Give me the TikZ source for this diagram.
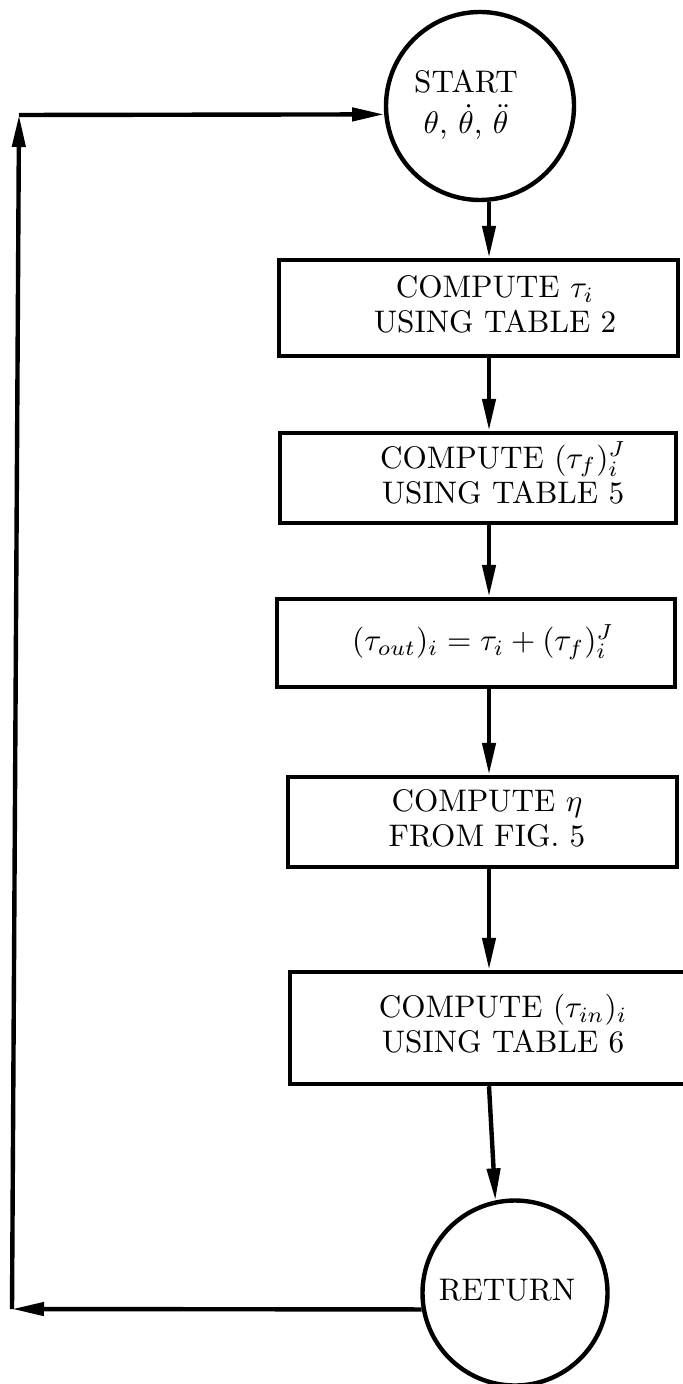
\documentclass[tikz,border=0pt]{standalone}
\usetikzlibrary{arrows.meta}
% centred block of lines set in the 10pt design and enlarged,
% moved sideways by half of #1
\newcommand\boxtext[2]{\hspace*{#1}\scalebox{1.56}{\begin{tabular}{@{}c@{}}#2\end{tabular}}}
\begin{document}
\begin{tikzpicture}[x=0.5pt,y=-0.5pt,
  every node/.style={font=\fontsize{10}{11.3}\selectfont, inner sep=0pt},
  stepbox/.style={draw, rectangle, line width=2.2pt},
  term/.style={draw, circle, line width=2.2pt},
  flow/.style={line width=2.2pt, -{Triangle[length=16pt,width=6.5pt]}}]
\useasboundingbox (0,0) rectangle (682,1384);

% terminals
\node[term, minimum size=94pt] (st) at (480,106)
  {\boxtext{-14pt}{START\\[0.6pt]$\theta$, $\dot\theta$, $\ddot\theta$}};
\node[term, minimum size=92.5pt] (ret) at (515,1293) {\boxtext{-8pt}{RETURN}};

% processing steps
\node[stepbox, minimum width=199.5pt, minimum height=48pt] (b1) at (478.5,308)
  {\boxtext{16.5pt}{COMPUTE $\tau_i$\\USING TABLE 2}};
\node[stepbox, minimum width=198pt, minimum height=45pt] (b2) at (478,478)
  {\boxtext{25pt}{COMPUTE $(\tau_f)_i^J$\\USING TABLE 5}};
\node[stepbox, minimum width=199pt, minimum height=44pt] (b3) at (476,643)
  {\boxtext{7pt}{$(\tau_{out})_i = \tau_i + (\tau_f)_i^J$}};
\node[stepbox, minimum width=194.5pt, minimum height=45pt] (b4) at (482.5,822)
  {\boxtext{4.5pt}{COMPUTE $\eta$\\FROM FIG. 5}};
\node[stepbox, minimum width=213pt, minimum height=56pt] (b5) at (503,1028)
  {\boxtext{0pt}{COMPUTE $(\tau_{in})_i$\\USING TABLE 6}};

% column of the downward connectors and corners of the loop
\coordinate (ax) at (489,0);
\coordinate (tl) at (19,115);
\coordinate (bl) at (12,1309);

\draw[flow] (st.south -| ax) -- (b1.north -| ax);
\draw[flow] (b1.south -| ax) -- (b2.north -| ax);
\draw[flow] (b2.south -| ax) -- (b3.north -| ax);
\draw[flow] (b3.south -| ax) -- (b4.north -| ax);
\draw[flow] (b4.south -| ax) -- (b5.north -| ax);
\draw[flow] (b5.south -| ax) -- (ret.102);

% return loop
\draw[flow] (ret.190) -- (bl);
\draw[flow] (bl) -- (tl);
\draw[flow] (tl) -- (st.185);
\end{tikzpicture}
\end{document}
